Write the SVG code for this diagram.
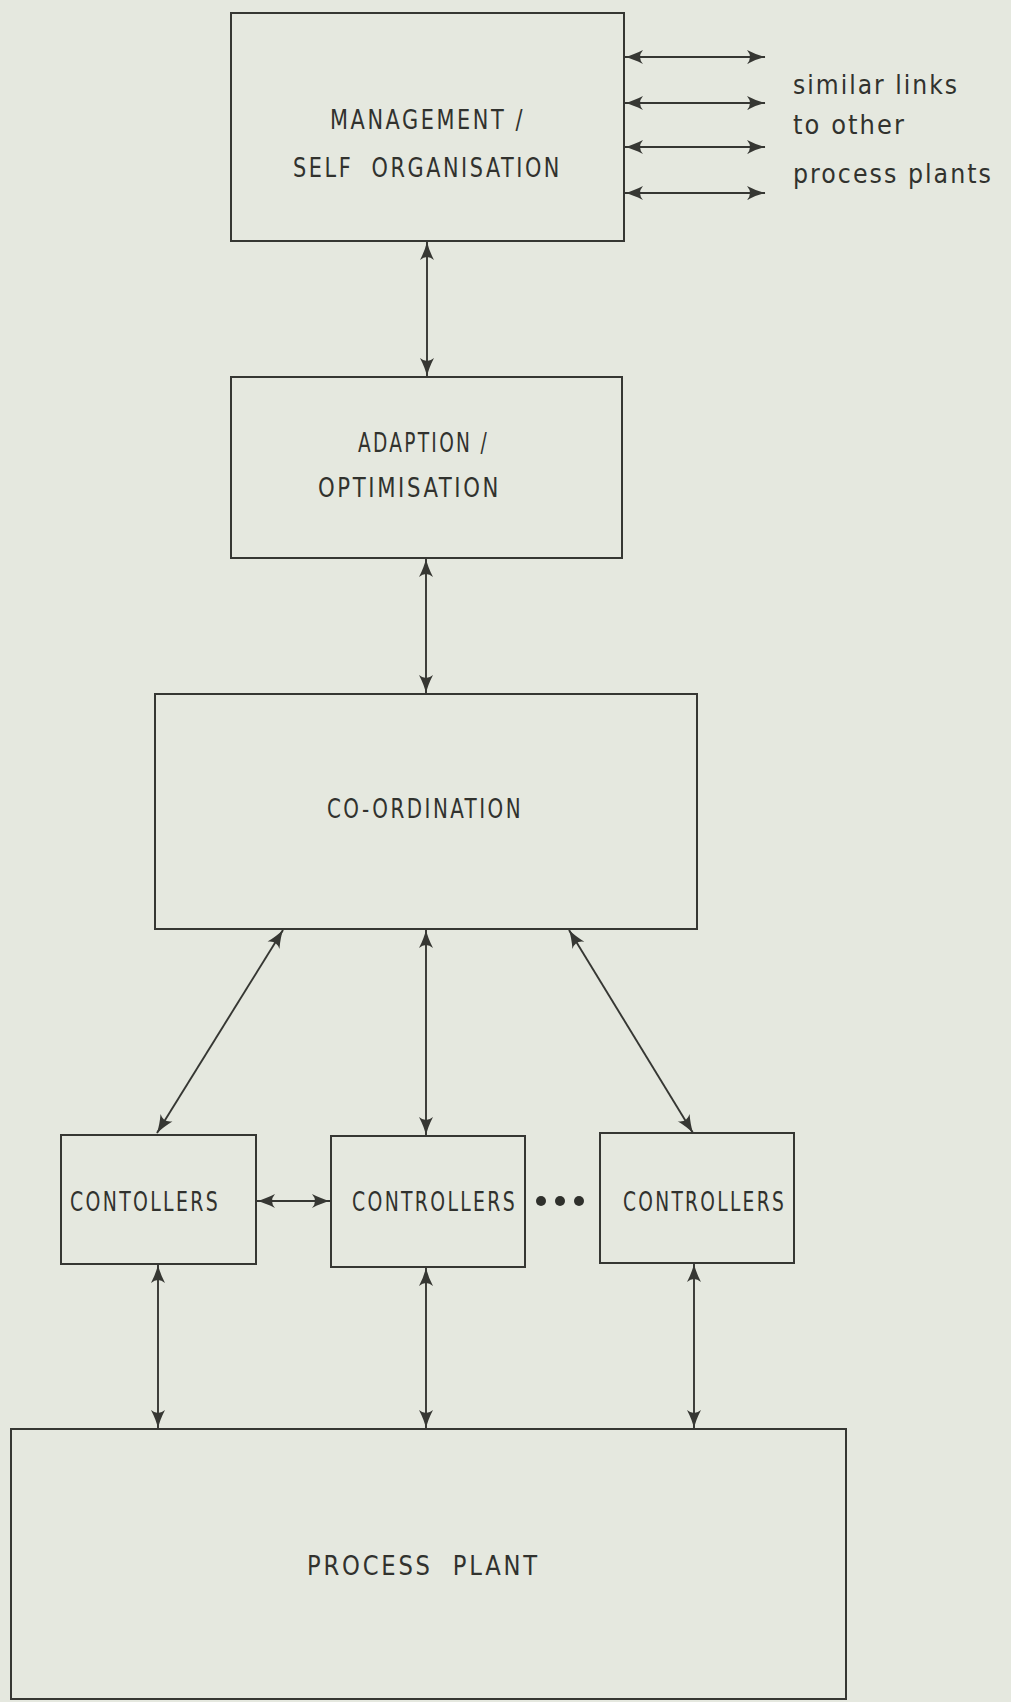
<svg xmlns="http://www.w3.org/2000/svg" width="1011" height="1702" viewBox="0 0 1011 1702">
  <defs>
    <style>
      .box { fill: none; stroke: #363733; stroke-width: 2; }
      .link { fill: none; stroke: #363733; stroke-width: 1.9; marker-start: url(#head); marker-end: url(#head); }
      .lbl { font-family: "DejaVu Sans Condensed", "DejaVu Sans", sans-serif; font-stretch: condensed; font-size: 27px; letter-spacing: 3px; fill: #31322e; }
      .note { font-family: "DejaVu Sans Condensed", "DejaVu Sans", sans-serif; font-stretch: condensed; font-size: 26px; letter-spacing: 2px; fill: #31322e; }
      .dot { fill: #2f302c; }
    </style>
    <!-- barbed arrowhead, tip at the origin, pointing along +x -->
    <marker id="head" viewBox="-20 -9 21 18" refX="0" refY="0" markerWidth="21" markerHeight="18" markerUnits="userSpaceOnUse" orient="auto-start-reverse">
      <path d="M0.5,0 Q-8,1.8 -18,7 Q-12,0 -18,-7 Q-8,-1.8 0.5,0 Z" fill="#363733"/>
    </marker>
  </defs>

  <!-- paper -->
  <rect x="0" y="0" width="1011" height="1702" fill="#e5e8df"/>

  <!-- connectors -->
  <g id="connectors">
    <line class="link" x1="427" y1="242" x2="427" y2="376"/>
    <line class="link" x1="426" y1="559" x2="426" y2="693"/>
    <line class="link" x1="283" y1="930" x2="157" y2="1133"/>
    <line class="link" x1="426" y1="930" x2="426" y2="1135"/>
    <line class="link" x1="569" y1="930" x2="693" y2="1133"/>
    <line class="link" x1="257" y1="1201" x2="330" y2="1201"/>
    <line class="link" x1="158" y1="1265" x2="158" y2="1428"/>
    <line class="link" x1="426" y1="1268" x2="426" y2="1428"/>
    <line class="link" x1="694" y1="1264" x2="694" y2="1428"/>
    <!-- links to other process plants -->
    <line class="link" x1="625" y1="57" x2="765" y2="57"/>
    <line class="link" x1="625" y1="103" x2="765" y2="103"/>
    <line class="link" x1="625" y1="147" x2="765" y2="147"/>
    <line class="link" x1="625" y1="193" x2="765" y2="193"/>
  </g>

  <g id="management">
    <rect class="box" x="231" y="13" width="393" height="228"/>
    <text class="lbl" x="330" y="129" textLength="195" lengthAdjust="spacingAndGlyphs">MANAGEMENT /</text>
    <text class="lbl" x="293" y="177" textLength="269" lengthAdjust="spacingAndGlyphs" xml:space="preserve">SELF  ORGANISATION</text>
  </g>

  <g id="other-plants-note">
    <text class="note" x="793" y="94" textLength="166" lengthAdjust="spacingAndGlyphs">similar links</text>
    <text class="note" x="793" y="134" textLength="113" lengthAdjust="spacingAndGlyphs">to other</text>
    <text class="note" x="793" y="183" textLength="200" lengthAdjust="spacingAndGlyphs">process plants</text>
  </g>

  <g id="adaption">
    <rect class="box" x="231" y="377" width="391" height="181"/>
    <text class="lbl" x="358" y="452" textLength="131" lengthAdjust="spacingAndGlyphs">ADAPTION /</text>
    <text class="lbl" x="318" y="497" textLength="183" lengthAdjust="spacingAndGlyphs">OPTIMISATION</text>
  </g>

  <g id="coordination">
    <rect class="box" x="155" y="694" width="542" height="235"/>
    <text class="lbl" x="327" y="818" textLength="196" lengthAdjust="spacingAndGlyphs">CO-ORDINATION</text>
  </g>

  <g id="controllers-1">
    <rect class="box" x="61" y="1135" width="195" height="129"/>
    <text class="lbl" x="70" y="1211" textLength="150" lengthAdjust="spacingAndGlyphs">CONTOLLERS</text>
  </g>

  <g id="controllers-2">
    <rect class="box" x="331" y="1136" width="194" height="131"/>
    <text class="lbl" x="352" y="1211" textLength="165" lengthAdjust="spacingAndGlyphs">CONTROLLERS</text>
  </g>

  <g id="ellipsis">
    <circle class="dot" cx="541" cy="1201" r="5"/>
    <circle class="dot" cx="560" cy="1201" r="5"/>
    <circle class="dot" cx="579" cy="1201" r="5"/>
  </g>

  <g id="controllers-3">
    <rect class="box" x="600" y="1133" width="194" height="130"/>
    <text class="lbl" x="623" y="1211" textLength="163" lengthAdjust="spacingAndGlyphs">CONTROLLERS</text>
  </g>

  <g id="process-plant">
    <rect class="box" x="11" y="1429" width="835" height="270"/>
    <text class="lbl" x="307" y="1575" textLength="233" lengthAdjust="spacingAndGlyphs" xml:space="preserve">PROCESS  PLANT</text>
  </g>
</svg>
